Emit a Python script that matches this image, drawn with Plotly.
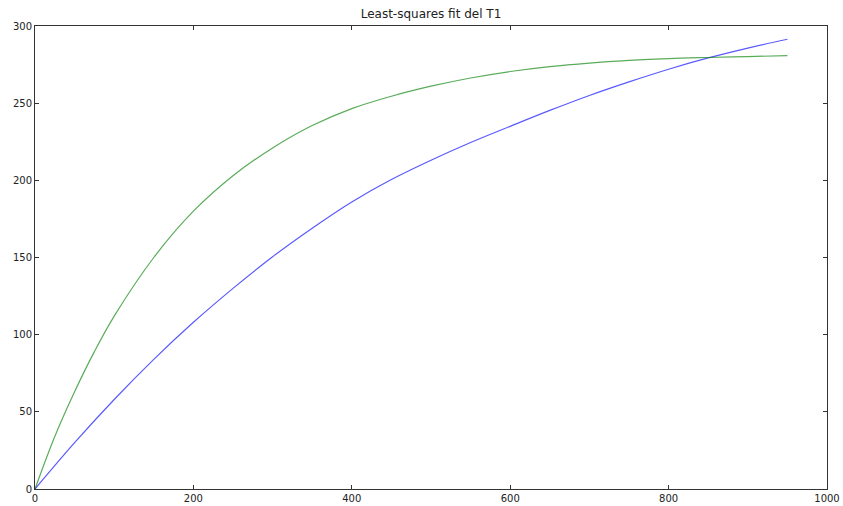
import plotly.graph_objects as go

title = "Least-squares fit del T1"

x_blue = [0, 50, 100, 150, 200, 250, 300, 350, 400, 450, 500, 550, 600, 650, 700, 750, 800, 850, 900, 950]
y_blue = [0, 30, 58, 84, 108, 130, 150.5, 169, 186, 200.5, 213, 224.5, 235, 245.3, 255, 263.8, 272, 279.3, 285.7, 291.4]

x_green = [0, 25, 50, 75, 100, 150, 200, 250, 300, 350, 400, 450, 500, 550, 600, 650, 700, 750, 800, 850, 900, 950]
y_green = [0, 34, 63, 89, 112, 150, 180, 203, 221, 235.5, 246.5, 254.5, 261, 266.3, 270.5, 273.7, 276, 277.7, 278.9, 279.6, 280.2, 280.8]

x_ticks = [0, 200, 400, 600, 800, 1000]
y_ticks = [0, 50, 100, 150, 200, 250, 300]

fig = go.Figure()
fig.add_trace(go.Scatter(x=x_blue, y=y_blue, mode="lines",
                         line=dict(color="rgba(0,0,255,0.65)", width=1.2, shape="spline", smoothing=1.0),
                         showlegend=False))
fig.add_trace(go.Scatter(x=x_green, y=y_green, mode="lines",
                         line=dict(color="rgba(0,128,0,0.65)", width=1.2, shape="spline", smoothing=1.0),
                         showlegend=False))

axis_common = dict(
    showgrid=False, zeroline=False, showline=True, linecolor="#333", linewidth=1,
    mirror="ticks", ticks="inside", ticklen=4, tickcolor="#333", automargin=False,
    tickfont=dict(family="DejaVu Sans", size=10, color="#222"),
)
fig.update_xaxes(range=[0, 1000], tickvals=x_ticks, **axis_common)
fig.update_yaxes(range=[0, 300], tickvals=y_ticks, **axis_common)

fig.update_layout(
    width=843, height=506,
    margin=dict(l=35, r=16, t=26, b=17),
    paper_bgcolor="white", plot_bgcolor="white",
    title=dict(text=title, x=0.5, xref="paper", y=1 - 14 / 506, yref="container",
               xanchor="center", yanchor="middle", automargin=False,
               font=dict(family="DejaVu Sans", size=12, color="#222")),
)
fig.write_html("out.html", config={"displayModeBar": False},
               post_script="document.body.style.margin='0';document.body.style.overflow='hidden';")
